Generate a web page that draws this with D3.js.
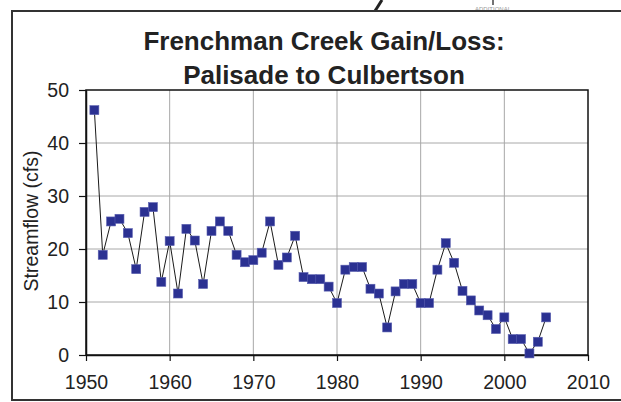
<!DOCTYPE html>
<html>
<head>
<meta charset="utf-8">
<script src="https://cdn.jsdelivr.net/npm/d3@7"></script>
<style>
  body { margin: 0; background: #fff; }
  #result { width: 621px; height: 402px; }
  text { font-family: 'Liberation Sans', Arial, sans-serif; fill: #222; }
</style>
</head>
<body>
<div id="result"></div>
<script>
// years and gain/loss (cfs)
const years = [
  1951, 1952, 1953, 1954, 1955, 1956, 1957, 1958, 1959, 1960,
  1961, 1962, 1963, 1964, 1965, 1966, 1967, 1968, 1969, 1970,
  1971, 1972, 1973, 1974, 1975, 1976, 1977, 1978, 1979, 1980,
  1981, 1982, 1983, 1984, 1985, 1986, 1987, 1988, 1989, 1990,
  1991, 1992, 1993, 1994, 1995, 1996, 1997, 1998, 1999, 2000,
  2001, 2002, 2003, 2004, 2005
];
const flow = [
  46.2, 18.9, 25.2, 25.7, 23.0, 16.2, 27.0, 27.9, 13.8, 21.5,
  11.6, 23.8, 21.6, 13.4, 23.4, 25.2, 23.4, 18.9, 17.5, 17.9,
  19.3, 25.2, 17.0, 18.4, 22.5, 14.7, 14.3, 14.3, 12.9, 9.8,
  16.1, 16.6, 16.6, 12.5, 11.6, 5.2, 12.0, 13.4, 13.4, 9.8,
  9.8, 16.1, 21.1, 17.4, 12.1, 10.3, 8.4, 7.5, 4.9, 7.1,
  3.0, 3.0, 0.3, 2.5, 7.1
];
const x_ticks = [1950, 1960, 1970, 1980, 1990, 2000, 2010];
const y_ticks = [0, 10, 20, 30, 40, 50];
const title_lines = ['Frenchman Creek Gain/Loss:', 'Palisade to Culbertson'];
const y_title = 'Streamflow (cfs)';

const margin = { top: 90, bottom: 47, left: 86, right: 33 };
const width = 621, height = 402;

var svg = d3.select('#result').append('svg')
  .attr('width', width)
  .attr('height', height);

// scraps of the page the chart was cut from
svg.append('line')
  .attr('x1', 382).attr('y1', 0).attr('x2', 375).attr('y2', 11)
  .attr('stroke', '#222').attr('stroke-width', 3);
svg.append('line')
  .attr('x1', 493).attr('y1', 0).attr('x2', 493).attr('y2', 5)
  .attr('stroke', '#444').attr('stroke-width', 1.5);
svg.append('text')
  .attr('x', 493).attr('y', 11)
  .attr('text-anchor', 'middle')
  .style('font-size', '6px')
  .style('fill', '#999')
  .text('ADDITIONAL');

// outer frame
svg.append('rect')
  .attr('x', 12).attr('y', 11)
  .attr('width', 640).attr('height', 389)
  .attr('fill', 'none')
  .attr('stroke', '#333')
  .attr('stroke-width', 2);

var x = d3.scaleLinear().domain([1950, 2010]).range([margin.left, width - margin.right]);
var y = d3.scaleLinear().domain([0, 50]).range([height - margin.bottom, margin.top]);

// grid
var grid = svg.append('g');
grid.selectAll('.gx').data(x_ticks.slice(1, -1)).enter().append('line')
  .attr('x1', function(d) { return x(d); }).attr('x2', function(d) { return x(d); })
  .attr('y1', y(50)).attr('y2', y(0))
  .attr('stroke', '#a8a8a8').attr('stroke-width', 1);
grid.selectAll('.gy').data(y_ticks.slice(1, -1)).enter().append('line')
  .attr('x1', x(1950)).attr('x2', x(2010))
  .attr('y1', function(d) { return y(d); }).attr('y2', function(d) { return y(d); })
  .attr('stroke', '#a8a8a8').attr('stroke-width', 1);

// plot border
svg.append('rect')
  .attr('x', x(1950)).attr('y', y(50))
  .attr('width', x(2010) - x(1950)).attr('height', y(0) - y(50))
  .attr('fill', 'none')
  .attr('stroke', '#111')
  .attr('stroke-width', 1.5);

var x_axis = svg.append('g')
  .attr('transform', `translate(0,${y(0)})`)
  .call(d3.axisBottom(x).tickValues(x_ticks).tickFormat(d3.format('d')).tickSize(6).tickSizeOuter(0));
var y_axis = svg.append('g')
  .attr('transform', `translate(${x(1950)},0)`)
  .call(d3.axisLeft(y).tickValues(y_ticks).tickSize(7).tickSizeOuter(0));

[x_axis, y_axis].forEach(function(axis) {
  axis.select('.domain').attr('stroke', '#111').attr('stroke-width', 1.5);
  axis.selectAll('.tick line').attr('stroke', '#111').attr('stroke-width', 1.2);
  axis.selectAll('.tick text')
    .style('font-size', '19.5px')
    .style('font-family', "'Liberation Sans', Arial, sans-serif")
    .attr('fill', '#222');
});
x_axis.selectAll('.tick text').attr('dy', '0.71em').attr('y', 20);
y_axis.selectAll('.tick text').attr('x', -17);

// series
var line = d3.line()
  .x(function(d, i) { return x(years[i]); })
  .y(function(d) { return y(d); });

svg.append('path')
  .datum(flow)
  .attr('d', line)
  .attr('fill', 'none')
  .attr('stroke', '#1a1a1a')
  .attr('stroke-width', 1);

svg.append('g').selectAll('rect')
  .data(flow)
  .enter().append('rect')
  .attr('x', function(d, i) { return x(years[i]) - 4.5; })
  .attr('y', function(d) { return y(d) - 4.5; })
  .attr('width', 9)
  .attr('height', 9)
  .attr('fill', '#2b3192')
  .attr('stroke', '#5a5fb0')
  .attr('stroke-width', 0.6);

// titles
svg.selectAll('.title').data(title_lines).enter().append('text')
  .attr('x', 324)
  .attr('y', function(d, i) { return 50 + i * 33.5; })
  .attr('text-anchor', 'middle')
  .style('font-size', '26px')
  .style('font-weight', 'bold')
  .text(function(d) { return d; });

svg.append('text')
  .attr('text-anchor', 'middle')
  .attr('transform', 'translate(38,221)rotate(-90)')
  .style('font-size', '19.5px')
  .text(y_title);
</script>
</body>
</html>
